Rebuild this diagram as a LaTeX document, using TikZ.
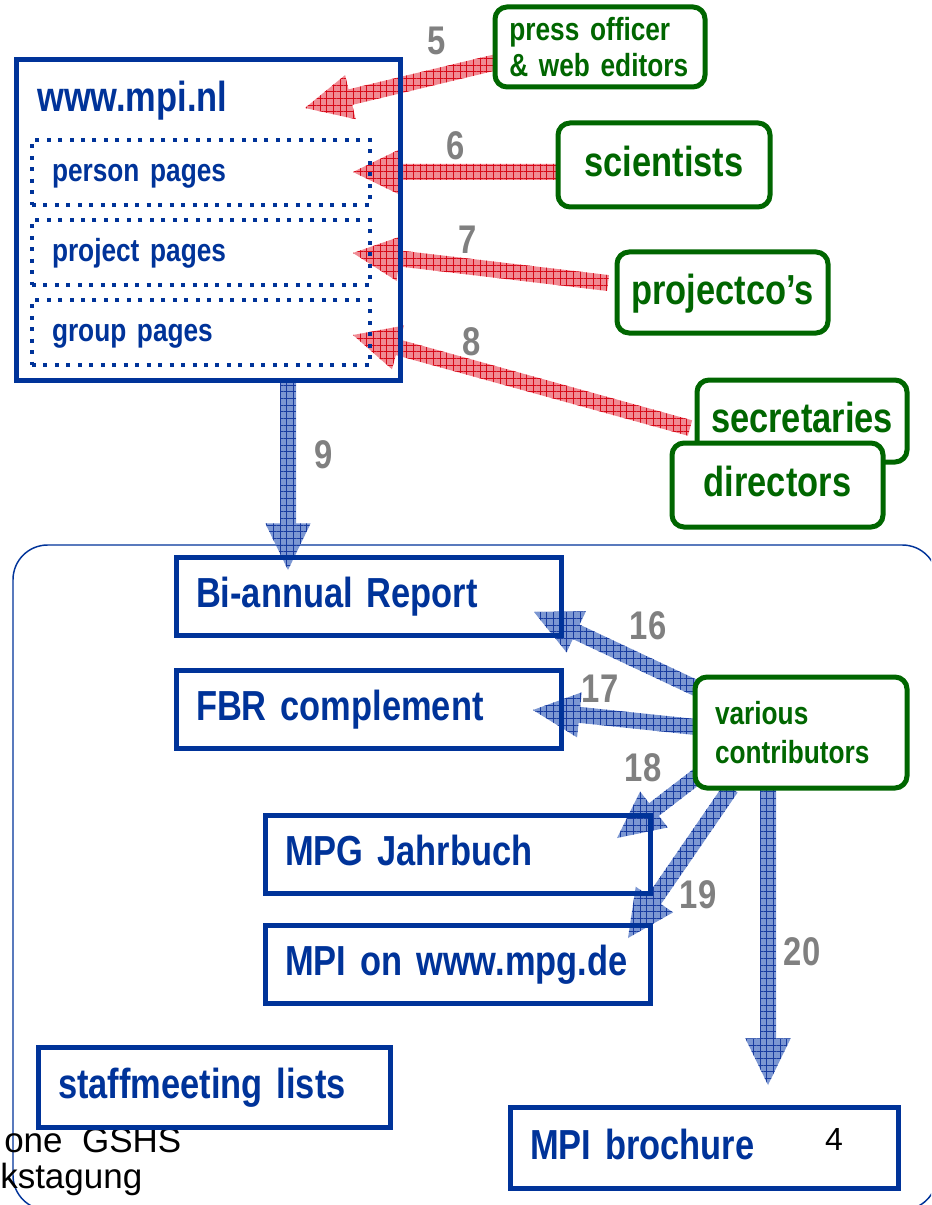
\documentclass[tikz,border=0pt]{standalone}
\usepackage{fontspec}
\setmainfont[FakeStretch=0.82,WordSpace=0.8]{Liberation Sans}
\newfontfamily\plainfont{Liberation Sans}
\usetikzlibrary{calc,patterns.meta}
\definecolor{mpiblue}{RGB}{0,51,153}
\definecolor{mpigreen}{RGB}{0,102,0}
\definecolor{numgray}{RGB}{128,128,128}
\definecolor{redfill}{RGB}{238,125,135}
\definecolor{redline}{RGB}{215,10,25}
\definecolor{bluefill}{RGB}{110,140,205}
\definecolor{blueline}{RGB}{25,60,160}
\newcommand{\fbig}{\fontsize{31.5pt}{36pt}\selectfont\bfseries}
\newcommand{\fmid}{\fontsize{24pt}{28pt}\selectfont\bfseries}
\newcommand{\fnum}{\fontsize{30pt}{34pt}\selectfont\bfseries}
\newcommand{\fatarrow}[3]{%
  \coordinate (fa-hb) at ($(#3)!35pt!(#2)$);
  \path[#1] ($(#2)!6pt!90:(#3)$) -- ($(fa-hb)!6pt!90:(#3)$) -- ($(fa-hb)!17pt!90:(#3)$) -- (#3)
    -- ($(fa-hb)!17pt!-90:(#3)$) -- ($(fa-hb)!6pt!-90:(#3)$) -- ($(#2)!6pt!-90:(#3)$) -- cycle;}
\tikzset{
  redarrow/.style={preaction={fill=redfill,fill opacity=0.9},
    pattern={Hatch[angle=0,distance=5pt,line width=0.45pt]}, pattern color=redline},
  bluearrow/.style={preaction={fill=bluefill,fill opacity=0.9},
    pattern={Hatch[angle=0,distance=5pt,line width=0.45pt]}, pattern color=blueline},
  bigline/.style={text height=22.7pt, text depth=5pt},
  midline/.style={text height=17.3pt, text depth=3.8pt},
  bluebox/.style 2 args={draw=mpiblue, line width=3.75pt, text=mpiblue, inner ysep=0pt,
    inner xsep=15pt, text width=#1, minimum height=#2, align=left, font=\fbig, bigline},
  dotbox/.style={draw=mpiblue, line width=3pt, dash pattern=on 3pt off 5.6pt, text=mpiblue,
    inner ysep=0pt, inner xsep=15pt, text width=223.5pt, minimum height=48.75pt, align=left, font=\fmid,
    midline},
  greenbox/.style 2 args={draw=mpigreen, line width=3.75pt, rounded corners=9pt, fill=white,
    text=mpigreen, inner sep=0pt, minimum width=#1, minimum height=#2, align=center, font=\fbig},
  num/.style={text=numgray, font=\fnum, inner sep=0pt},
}
\begin{document}
\begin{tikzpicture}[x=0.75pt,y=-0.75pt]
\useasboundingbox (0,0) rectangle (931,1205);
% large rounded frame (partly outside the picture)
\begin{scope}
  \clip (0,0) rectangle (931,1205);
  \draw[mpiblue, line width=1.1pt, rounded corners=26pt] (13,545) rectangle (937,1210);
  \node[font=\plainfont\fontsize{26.25pt}{30pt}\selectfont, anchor=base west, inner sep=0pt] (gshs) at (4,1152) {one\ \ GSHS};
  \node[font=\plainfont\fontsize{26.25pt}{30pt}\selectfont, anchor=base west, inner sep=0pt] (tagung) at (0,1188) {kstagung};
\end{scope}

% arrow end points
\coordinate (t5) at (497,62);   \coordinate (h5) at (305,108);
\coordinate (t6) at (561,172);  \coordinate (h6) at (353,172);
\coordinate (t7) at (608,283);  \coordinate (h7) at (353,253);
\coordinate (t8) at (690,428);  \coordinate (h8) at (353,335);
\coordinate (t9) at (288,380);  \coordinate (h9) at (288,570);
\coordinate (t16) at (700,690); \coordinate (h16) at (534,612);
\coordinate (t17) at (705,728); \coordinate (h17) at (533,710);
\coordinate (t18) at (704,771); \coordinate (h18) at (617,838);
\coordinate (t19) at (731,788); \coordinate (h19) at (628,938);
\coordinate (t20) at (768,788); \coordinate (h20) at (768,1085);

% arrows
\fatarrow{redarrow}{t5}{h5}
\fatarrow{redarrow}{t6}{h6}
\fatarrow{redarrow}{t7}{h7}
\fatarrow{redarrow}{t8}{h8}
\fatarrow{bluearrow}{t9}{h9}
\fatarrow{bluearrow}{t16}{h16}
\fatarrow{bluearrow}{t17}{h17}
\fatarrow{bluearrow}{t18}{h18}
\fatarrow{bluearrow}{t19}{h19}
\fatarrow{bluearrow}{t20}{h20}

% www.mpi.nl block
\node[draw=mpiblue, line width=3.75pt, minimum width=288pt, minimum height=240pt, inner sep=0pt] (mpi) at (208,220) {};
\node[anchor=base west, text=mpiblue, font=\fbig, inner sep=0pt] (mpititle) at (37,112) {www.mpi.nl};
\node[dotbox] (person) at (201,172.5) {person pages};
\node[dotbox] (project) at (201,252.5) {project pages};
\node[dotbox] (group) at (201,332.5) {group pages};

% green boxes
\node[greenbox={157.5pt}{60pt}, align=left, font=\fmid, text width=136pt, inner xsep=10.75pt] (press) at (600,47) {press officer\\[-1pt]\&~web editors};
\node[greenbox={159pt}{63pt}, bigline] (sci) at (664,165) {scientists};
\node[greenbox={158.25pt}{60.75pt}, bigline] (projco) at (722.5,292.5) {projectco’s};
\node[greenbox={157.5pt}{61.5pt}, bigline] (secr) at (802,421) {secretaries};
\node[greenbox={158.25pt}{63pt}, bigline] (dir) at (777.5,485) {directors};
\node[greenbox={159pt}{83.25pt}, align=left, font=\fmid, text width=129pt, inner xsep=15pt] (contrib) at (801,732.5) {various\\[1pt]contributors};

% blue boxes
\node[bluebox={258.75pt}{58.5pt}] (biannual) at (368.5,596) {Bi-annual Report};
\node[bluebox={258.75pt}{58.5pt}] (fbr) at (368.5,709) {FBR complement};
\node[bluebox={258.75pt}{58.5pt}] (jahrbuch) at (457.5,854) {MPG Jahrbuch};
\node[bluebox={258.75pt}{58.5pt}] (mpgde) at (457.5,964) {MPI on www.mpg.de};
\node[bluebox={234pt}{60pt}] (staff) at (214,1087) {staffmeeting lists};
\node[bluebox={261pt}{60.75pt}] (brochure) at (704,1147.5) {MPI brochure};
\node[font=\plainfont\fontsize{24pt}{28pt}\selectfont, inner sep=0pt] (four) at (834,1139) {4};

% numbers
\node[num] (n5) at (437,41) {5};
\node[num] (n6) at (456,146) {6};
\node[num] (n7) at (468,240) {7};
\node[num] (n8) at (472,342) {8};
\node[num] (n9) at (324,455) {9};
\node[num] (n16) at (648,626) {16};
\node[num] (n17) at (600,689) {17};
\node[num] (n18) at (643,768) {18};
\node[num] (n19) at (698,895) {19};
\node[num] (n20) at (802,952) {20};
\end{tikzpicture}
\end{document}
